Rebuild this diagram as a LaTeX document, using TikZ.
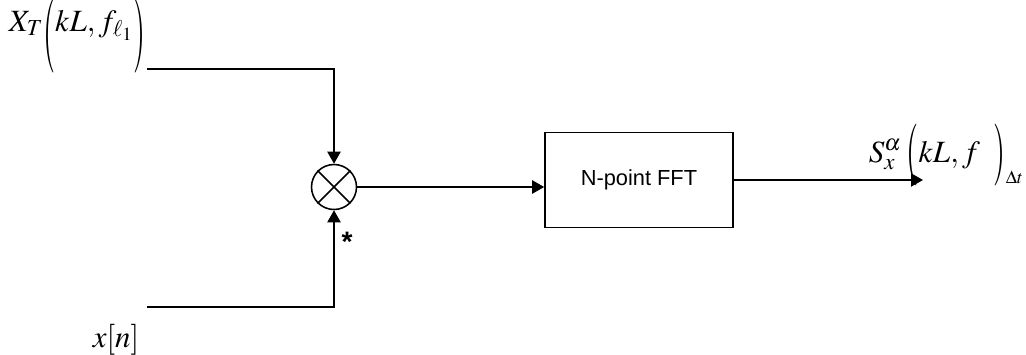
\documentclass[tikz,border=0pt]{standalone}
\usepackage{mathptmx}
\usepackage{graphicx}
\usepackage[no-math]{fontspec}
\newfontfamily\arialfont{Liberation Sans}
\usetikzlibrary{arrows.meta}

\newcommand{\tallparen}[3]{\raisebox{#3}{\scalebox{1}[#2]{$#1$}}}

\begin{document}
\begin{tikzpicture}[x=0.025cm, y=-0.025cm, line width=1.1pt,
        >={Triangle[length=0.3cm, width=0.33cm]},
        block/.style={draw, minimum width=4.7cm, minimum height=2.375cm, font=\arialfont\fontsize{15.5}{17}\selectfont},
        mixer/.style={draw, circle, minimum size=1.125cm, inner sep=0pt},
        sig/.style={inner sep=0pt, anchor=base west, font=\fontsize{22}{24}\selectfont}]
        \useasboundingbox (0, 0) rectangle (1026, 355);

        \node[sig]   (xt)  at (8, 31)    {$X_T$\tallparen{(}{2.4}{-17pt}$kL, f_{\ell_1}$\tallparen{)}{2.4}{-17pt}};
        \node[sig]   (xn)  at (92, 347)  {$x[n]$};
        \node[mixer] (mix) at (334, 187) {};
        \node[block] (fft) at (639, 180) {N-point FFT};
        \node[sig] (sx) at (868, 162) {$S_x^{\alpha}$\,\tallparen{(}{2}{-6pt}$kL, f\;\;$\tallparen{)}{2}{-6pt}\raisebox{-15pt}{\fontsize{13}{13}\selectfont$\Delta t$}};
        \node[font=\arialfont\bfseries\fontsize{20}{20}\selectfont] (conj) at (347, 242) {*};

        \coordinate (in1) at (147, 69);
        \coordinate (in2) at (147, 307);
        \coordinate (out) at (923, 180);

        \draw (mix.north west) -- (mix.south east);
        \draw (mix.north east) -- (mix.south west);

        \draw[->] (in1) -| (mix.north);
        \draw[->] (in2) -| (mix.south);
        \draw[->] (mix.east) -- (mix.east -| fft.west);
        \draw[->] (fft.east) -- (out);
    \end{tikzpicture}
\end{document}
